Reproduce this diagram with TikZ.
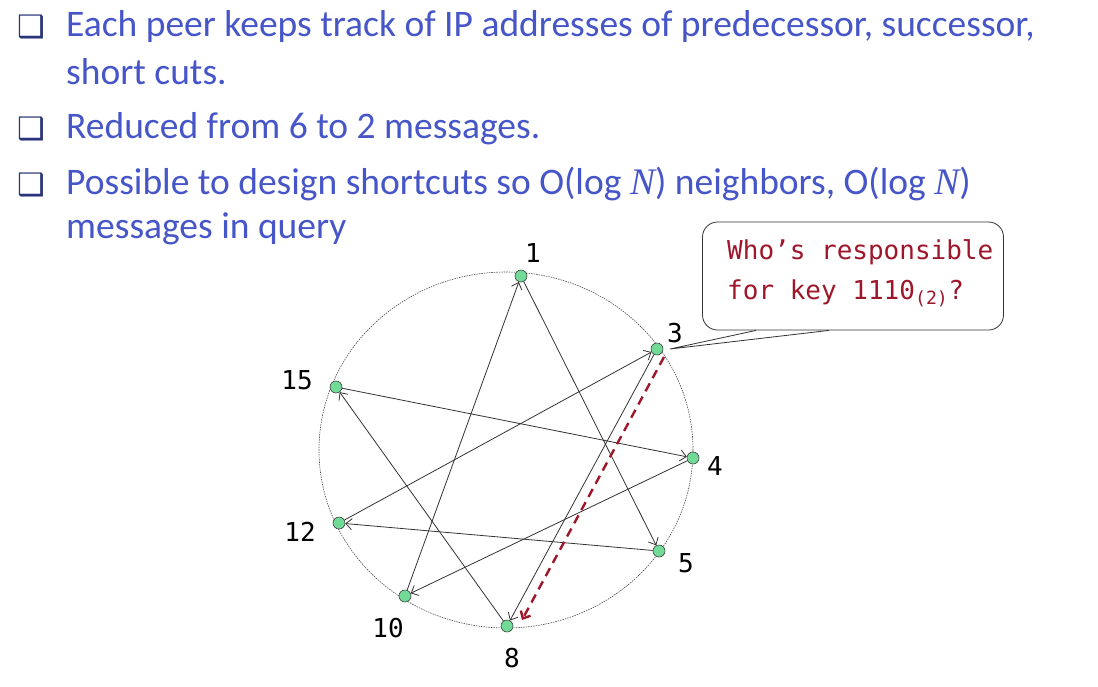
\documentclass[tikz,border=0pt]{standalone}
\usepackage{fontspec}
\usepackage{xcolor}
\setmainfont{Carlito}
\newfontfamily\monofont{DejaVu Sans Mono}
\newfontfamily\symfont{DejaVu Sans}
\newfontfamily\varfont{Liberation Serif}
\usetikzlibrary{positioning,arrows.meta}
\definecolor{slideblue}{RGB}{70,86,200}
\definecolor{keyred}{RGB}{158,22,42}
\definecolor{peergreen}{RGB}{112,218,150}
\newcommand{\varN}{{\varfont\itshape N}}

\begin{document}
\begin{tikzpicture}[x=1pt,y=-1pt,
  item/.style={anchor=base west,inner sep=0pt,text=slideblue,font=\fontsize{37.5}{42}\selectfont},
  tick/.style={anchor=base,inner sep=0pt,text=slideblue!60!black,font=\symfont\fontsize{31}{31}\selectfont},
  peer/.style={circle,draw=black!75,fill=peergreen,inner sep=0pt,minimum size=12pt,line width=0.6pt},
  num/.style={inner sep=0pt,font=\monofont\fontsize{26}{26}\selectfont},
  shortcut/.style={draw=black!80,line width=0.8pt,-{Straight Barb[length=6pt,width=11pt]}},
  query/.style={draw=keyred,line width=2.4pt,dash pattern=on 9pt off 6pt,-{Straight Barb[length=6pt,width=11pt]}},
  callout/.style={draw=black!80,line width=0.8pt,rounded corners=15pt,fill=white}]
  \useasboundingbox (0,0) rectangle (1098,686);

  \node[tick] (b1) at (31,37) {❑};
  \node[item] (t1) at (66,36) {Each peer keeps track of IP addresses of predecessor, successor,};
  \node[item] (t1b) at (66,84) {short cuts.};
  \node[tick] (b2) at (31,139) {❑};
  \node[item] (t2) at (66,138) {Reduced from 6 to 2 messages.};
  \node[tick] (b3) at (31,195) {❑};
  \node[item] (t3) at (66,194) {Possible to design shortcuts so O(log \varN) neighbors, O(log \varN)};
  \node[item] (t3b) at (66,238) {messages in query};

  \draw[black!70,line width=0.6pt,dash pattern=on 1.5pt off 1pt] (506,450) ellipse [x radius=187pt, y radius=178pt];

  \node[peer] (p1) at (521,276) {};
  \node[peer] (p3) at (657,349) {};
  \node[peer] (p4) at (693,458) {};
  \node[peer] (p5) at (659,551) {};
  \node[peer] (p8) at (507,626) {};
  \node[peer] (p10) at (405,596) {};
  \node[peer] (p12) at (339,523) {};
  \node[peer] (p15) at (336,387) {};

  \node[num] (n1) at (533,253) {1};
  \node[num] (n3) at (675,333) {3};
  \node[num] (n4) at (715,466) {4};
  \node[num] (n5) at (686,563) {5};
  \node[num] (n8) at (512,658) {8};
  \node[num] (n10) at (388,628) {10};
  \node[num] (n12) at (300,532) {12};
  \node[num] (n15) at (297,380) {15};

  \draw[shortcut] (p10) -- (p1);
  \draw[shortcut] (p1) -- (p5);
  \draw[shortcut] (p15) -- (p4);
  \draw[shortcut] (p4) -- (p10);
  \draw[shortcut] (p5) -- (p12);
  \draw[shortcut,{Straight Barb[length=6pt,width=11pt]}-] (p3) -- (p12);
  \draw[shortcut,{Straight Barb[length=6pt,width=11pt]}-] (p8) -- (p3);
  \draw[shortcut] (p8) -- (p15);
  \draw[query] ([xshift=7pt,yshift=-8pt]p3.center) -- ([xshift=15pt,yshift=6pt]p8.center);

  \node[callout,minimum width=301pt,minimum height=108pt] (ask) at (853,276) {};
  \node[anchor=base west,inner sep=0pt,text=keyred,font=\monofont\fontsize{26}{26}\selectfont] (q1) at (727,259) {Who’s responsible};
  \node[anchor=base west,inner sep=0pt,text=keyred,font=\monofont\fontsize{26}{26}\selectfont] (q2) at (727,299) {for key 1110\textsubscript{(2)}?};
  \coordinate (tip) at (670,349);
  \draw[black!80,line width=0.8pt] (ask.south west) ++(54,0) coordinate (ta) -- (tip) -- ([xshift=-24pt]ask.south) coordinate (tb);
\end{tikzpicture}
\end{document}
